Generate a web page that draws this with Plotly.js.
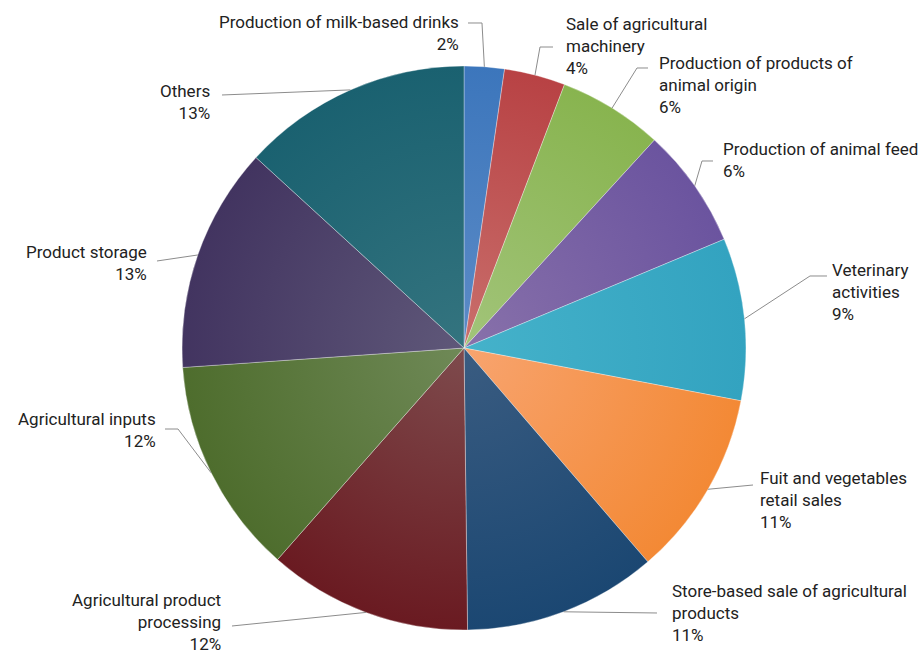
<!DOCTYPE html>
<html>
<head>
<meta charset="utf-8">
<script src="https://cdn.plot.ly/plotly-3.0.1.min.js"></script>
<style>html,body{margin:0;padding:0;background:#fff;}#chart{width:920px;height:653px;}</style>
</head>
<body>
<div id="chart"></div>
<script>
// ---- data ----
const categories = [
  "Production of milk-based drinks",
  "Sale of agricultural machinery",
  "Production of products of animal origin",
  "Production of animal feed",
  "Veterinary activities",
  "Fuit and vegetables retail sales",
  "Store-based sale of agricultural products",
  "Agricultural product processing",
  "Agricultural inputs",
  "Product storage",
  "Others"
];
// label text as wrapped in the picture
const labelLines = [
  ["Production of milk-based drinks"],
  ["Sale of agricultural", "machinery"],
  ["Production of products of", "animal origin"],
  ["Production of animal feed"],
  ["Veterinary", "activities"],
  ["Fuit and vegetables", "retail sales"],
  ["Store-based sale of agricultural", "products"],
  ["Agricultural product", "processing"],
  ["Agricultural inputs"],
  ["Product storage"],
  ["Others"]
];
// slice sizes
const values = [2.3, 3.5, 6.0, 6.9, 9.3, 10.7, 11.1, 11.7, 12.4, 12.9, 13.2];
// percentages printed on the chart
const pctLabels = [2, 4, 6, 6, 9, 11, 11, 12, 12, 13, 13];

// ---- styling ----
const innerColors = ["#5c8bc6","#c96f6c","#a2c47a","#8871aa","#45b2ca","#f8a46f","#3a5c81","#7e4b4d","#6f8957","#5f5879","#34747f"];
const outerColors = ["#3c76bc","#b84244","#88b44f","#6b549f","#33a3c0","#f38935","#1b4772","#6a1a21","#4e6d2d","#423460","#1a6170"];
const baseColors  = ["#4f81bd","#c0504d","#9bbb59","#8064a2","#4bacc6","#f79646","#2c4d75","#772c2a","#5f7530","#4d3b62","#276a7c"];

const W = 920, H = 653;
const CX = 464, CY = 348, R = 282;
// label layout (pixel positions): anchor side, x, block centre y, leader points from text side
const labelLayout = [
  {side:"right", x:460, y:33,  pts:[[468,23],[482,23]]},
  {side:"left",  x:565, y:46,  pts:[[553,47],[540,47]]},
  {side:"left",  x:658, y:85,  pts:[[648,68],[637,68]]},
  {side:"left",  x:722, y:160, pts:[[713,161],[702,161]]},
  {side:"left",  x:831, y:292, pts:[[827,276],[810,276]]},
  {side:"left",  x:759, y:500, pts:[[753,485]]},
  {side:"left",  x:671, y:613, pts:[[657,613]]},
  {side:"right", x:222, y:622, pts:[[232,626]]},
  {side:"right", x:157, y:430, pts:[[165,429],[178,429]]},
  {side:"right", x:148, y:263, pts:[[157,261]]},
  {side:"right", x:211, y:102, pts:[[222,95]]}
];

const px = x => x / W, py = y => 1 - y / H;

const total = values.reduce((a,b)=>a+b,0);
let cum = 0;
const annotations = [], shapes = [];
values.forEach((v, i) => {
  const mid = (cum + v/2) / total * 2 * Math.PI;
  cum += v;
  const ex = CX + R * Math.sin(mid), ey = CY - R * Math.cos(mid);
  const L = labelLayout[i];
  const lines = labelLines[i].concat([pctLabels[i] + "%"]);
  annotations.push({
    xref:"paper", yref:"paper", x:px(L.x), y:py(L.y),
    xanchor: L.side === "right" ? "right" : "left", yanchor:"middle",
    align: L.side === "right" ? "right" : "left",
    text: lines.join("<br>"), showarrow:false, borderpad:0,
    font:{family:"Roboto, 'DejaVu Sans', sans-serif", size:17, color:"#222"}
  });
  const pts = L.pts.concat([[ex, ey]]);
  let d = "M" + pts.map(p => px(p[0]).toFixed(5) + "," + py(p[1]).toFixed(5)).join(" L");
  shapes.push({type:"path", xref:"paper", yref:"paper", path:d, line:{color:"#8c8c8c", width:1}});
});

const trace = {
  type:"pie",
  labels: categories,
  values: values,
  sort:false, direction:"clockwise", rotation:0,
  textinfo:"none", hoverinfo:"none",
  marker:{colors: baseColors, line:{color:"rgba(255,255,255,0.55)", width:0.6}},
  domain:{x:[(CX-R)/W, (CX+R)/W], y:[1-(CY+R)/H, 1-(CY-R)/H]},
  showlegend:false
};

const layout = {
  width:W, height:H,
  margin:{l:0,r:0,t:0,b:0},
  paper_bgcolor:"#fff", plot_bgcolor:"#fff",
  showlegend:false,
  annotations: annotations,
  shapes: shapes
};

Plotly.newPlot("chart", [trace], layout, {displayModeBar:false, staticPlot:true}).then(gd => {
  const svg = gd.querySelector("svg.main-svg");
  let defs = svg.querySelector("defs");
  if (!defs) { defs = document.createElementNS("http://www.w3.org/2000/svg","defs"); svg.insertBefore(defs, svg.firstChild); }
  const paths = gd.querySelectorAll("g.slice path.surface");
  const r = gd.calcdata[0][0].r;
  paths.forEach((p, i) => {
    const m = /^M\s*([\-\d.]+)[ ,]([\-\d.]+)/.exec(p.getAttribute("d"));
    if (!m) return;
    const id = "sliceGrad" + i;
    const g = document.createElementNS("http://www.w3.org/2000/svg","radialGradient");
    g.setAttribute("id", id);
    g.setAttribute("gradientUnits","userSpaceOnUse");
    g.setAttribute("cx", m[1]); g.setAttribute("cy", m[2]); g.setAttribute("r", r);
    const idx = gd.calcdata[0][i] ? gd.calcdata[0][i].i : i;
    [[0, innerColors[idx]], [1, outerColors[idx]]].forEach(s => {
      const st = document.createElementNS("http://www.w3.org/2000/svg","stop");
      st.setAttribute("offset", s[0]); st.setAttribute("stop-color", s[1]);
      g.appendChild(st);
    });
    defs.appendChild(g);
    p.style.fill = "url(#" + id + ")";
  });
});
</script>
</body>
</html>
